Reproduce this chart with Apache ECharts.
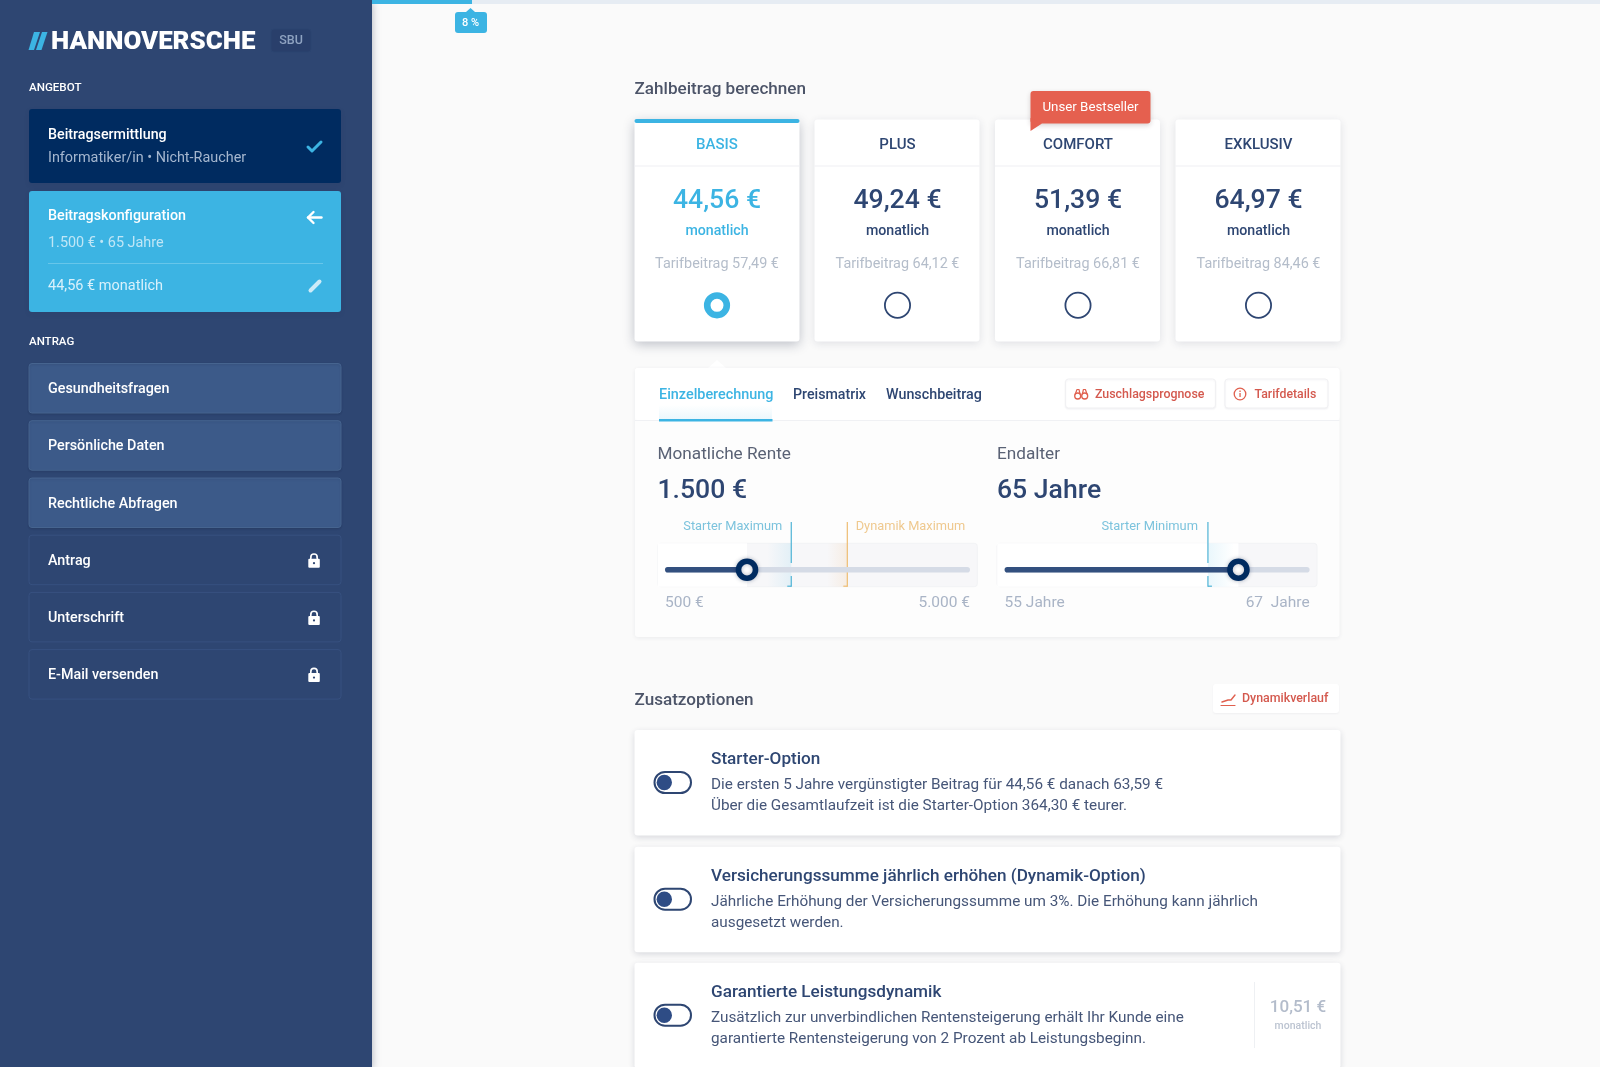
<!DOCTYPE html>
<html lang="de">
<head>
<meta charset="utf-8">
<title>Hannoversche SBU</title>
<style>html,body{margin:0;padding:0;background:#fafafa}#c{position:absolute;left:0;top:0;width:1600px;height:1067px}</style>
<script src="https://cdn.jsdelivr.net/npm/echarts@6/dist/echarts.min.js"></script>
</head>
<body>
<div id="c"></div>
<script>
// ---------- content ----------
var brandName = 'HANNOVERSCHE';
var brandTag = 'SBU';
var progressPercent = 8;
var sectionOffer = 'ANGEBOT';
var sectionApplication = 'ANTRAG';
var stepOne = ['Beitragsermittlung', 'Informatiker/in • Nicht-Raucher'];
var stepTwo = ['Beitragskonfiguration', '1.500 € • 65 Jahre', '44,56 € monatlich'];
var openSteps = ['Gesundheitsfragen', 'Persönliche Daten', 'Rechtliche Abfragen'];
var lockedSteps = ['Antrag', 'Unterschrift', 'E-Mail versenden'];

var plans = ['BASIS', 'PLUS', 'COMFORT', 'EXKLUSIV'];
var monthlyPrices = ['44,56 €', '49,24 €', '51,39 €', '64,97 €'];
var tariffPrices = ['57,49 €', '64,12 €', '66,81 €', '84,46 €'];
var tabs = ['Einzelberechnung', 'Preismatrix', 'Wunschbeitrag'];

// slider scales and values
var rentRange = [500, 5000];
var rentTickLabels = ['500 €', '5.000 €'];
var rentHandle = 1710;
var rentStarterMax = 2363;
var rentDynamikMax = 3190;
var ageRange = [55, 67];
var ageTickLabels = ['55 Jahre', '67  Jahre'];
var ageHandle = 64.2;
var ageStarterMin = 63;

var optionTitles = ['Starter-Option', 'Versicherungssumme jährlich erhöhen (Dynamik-Option)', 'Garantierte Leistungsdynamik'];
var optionLinesA = ['Die ersten 5 Jahre vergünstigter Beitrag für 44,56 € danach 63,59 €', 'Jährliche Erhöhung der Versicherungssumme um 3%. Die Erhöhung kann jährlich', 'Zusätzlich zur unverbindlichen Rentensteigerung erhält Ihr Kunde eine'];
var optionLinesB = ['Über die Gesamtlaufzeit ist die Starter-Option 364,30 € teurer.', 'ausgesetzt werden.', 'garantierte Rentensteigerung von 2 Prozent ab Leistungsbeginn.'];

// ---------- layout ----------
var FONT = 'Roboto, sans-serif';
var NAVY = '#2e4672', DEEP = '#002b60', SKY = '#3cb4e3', CORAL = '#e0604f', LINK = '#d4594e';
var TEXT_SHIFT = 1.2;
var planX = [717, 897.5, 1078, 1258.5];
var planLeft = [634.5, 814.5, 995, 1175.5];
var openY = [363.5, 420.7, 478];
var lockedY = [535.2, 592.4, 649.6];
var optionY = [730, 846.7, 962.7];

var els = [];
function rect(x, y, w, h, fill, o) {
  o = o || {};
  var style = { fill: fill };
  if (o.stroke) { style.stroke = o.stroke; style.lineWidth = o.lw || 1; }
  if (o.blur) { style.shadowBlur = o.blur; style.shadowColor = o.sc || 'rgba(40,50,80,0.12)'; style.shadowOffsetY = o.sy || 2; }
  els.push({ type: 'rect', shape: { x: x, y: y, width: w, height: h, r: o.r === undefined ? 3 : o.r }, style: style, silent: true });
}
function text(x, y, s, size, weight, fill, align) {
  els.push({ type: 'text', silent: true, style: { x: x, y: y + TEXT_SHIFT, text: s, fill: fill, font: weight + ' ' + size + 'px ' + FONT, textAlign: align || 'left', textVerticalAlign: 'middle' } });
}
function line(pts, color, w) {
  els.push({ type: 'polyline', silent: true, shape: { points: pts }, style: { stroke: color, lineWidth: w, fill: null, lineCap: 'round', lineJoin: 'round' } });
}
function poly(pts, fill) {
  els.push({ type: 'polygon', silent: true, shape: { points: pts }, style: { fill: fill } });
}
function circle(x, y, r, fill, stroke, lw) {
  els.push({ type: 'circle', silent: true, shape: { cx: x, cy: y, r: r }, style: { fill: fill, stroke: stroke || null, lineWidth: lw || 0 } });
}
function lock(cy) {
  els.push({ type: 'arc', silent: true, shape: { cx: 314, cy: cy - 3, r: 3.2, startAngle: Math.PI, endAngle: 0 }, style: { stroke: '#fff', lineWidth: 1.6, fill: null } });
  line([[310.8, cy - 3], [310.8, cy - 1]], '#fff', 1.6);
  line([[317.2, cy - 3], [317.2, cy - 1]], '#fff', 1.6);
  rect(308.3, cy - 1.5, 11.5, 9, '#ffffff', { r: 1 });
  circle(314, cy + 3, 1.1, NAVY);
}

// sidebar
rect(0, 0, 372, 1067, NAVY, { r: 0, blur: 8, sc: 'rgba(30,40,70,0.35)', sy: 0 });
poly([[34, 32], [40, 32], [34, 50], [28.5, 50]], SKY);
poly([[42, 32], [47.5, 32], [41.5, 50], [36, 50]], SKY);
text(51, 41.5, brandName, 25.9, 900, '#ffffff');
rect(271, 29, 40, 23, '#293f6b', { stroke: '#2b4470' });
text(291, 39.8, brandTag, 12.5, 500, '#8fa3c1', 'center');
text(29, 86.5, sectionOffer, 11.6, 500, '#ffffff');
rect(29, 109, 312, 74, DEEP, { blur: 5 });
text(48, 134, stepOne[0], 14.25, 500, '#ffffff');
text(48, 157.5, stepOne[1], 14.4, 400, '#a5b7cf');
line([[308, 147], [312, 151], [321, 142]], SKY, 3);
rect(29, 191, 312, 121, SKY, { blur: 5 });
text(48, 215.5, stepTwo[0], 14.3, 500, '#ffffff');
text(48, 242.5, stepTwo[1], 14.4, 400, '#bfe6f6');
rect(48, 263, 275, 1, '#67c6ea', { r: 0 });
text(48, 285.5, stepTwo[2], 14.5, 400, '#d9f1fb');
line([[308, 217.5], [321.5, 217.5]], '#ffffff', 2.4);
line([[313.5, 212], [308, 217.5], [313.5, 223]], '#ffffff', 2.4);
line([[310.5, 290.5], [319.5, 281.5]], '#cdebf8', 4);
text(29, 341, sectionApplication, 11.5, 500, '#ffffff');
openSteps.forEach(function (s, i) {
  rect(29, openY[i], 312, 49.5, '#3c5a89', { stroke: '#46648f', blur: 2, sc: 'rgba(20,30,60,0.14)', sy: 1 });
  text(48, openY[i] + 24.8, s, 14.3, 500, '#ffffff');
});
lockedSteps.forEach(function (s, i) {
  rect(29, lockedY[i], 312, 49.5, '#2e4672', { stroke: '#375180' });
  text(48, lockedY[i] + 24.8, s, 14.3, 500, '#ffffff');
  lock(lockedY[i] + 25);
});

// progress
rect(372, 0, 1228, 4, '#e6ecf3', { r: 0 });
rect(372, 0, 100, 4, SKY, { r: 0 });
poly([[466, 12], [470.5, 8], [475, 12]], SKY);
rect(455, 12, 32, 21, SKY, { r: 3 });
text(470.5, 22, progressPercent + ' %', 11, 500, '#ffffff', 'center');

// plans
text(634.5, 88.8, 'Zahlbeitrag berechnen', 17.1, 500, '#4c5468');
plans.forEach(function (p, i) {
  var active = i === 0, col = active ? SKY : NAVY, x = planLeft[i], cx = planX[i];
  rect(x, 119.5, 165, 222, '#ffffff', { blur: active ? 12 : 9, sc: active ? 'rgba(30,40,70,0.28)' : 'rgba(30,40,70,0.12)', sy: active ? 3 : 2 });
  if (active) rect(x, 119, 165, 4, SKY, { r: 2 });
  rect(x, 165.5, 165, 1, '#eff0f3', { r: 0 });
  text(cx, 144, p, 15, 500, col, 'center');
  text(cx, 200, monthlyPrices[i], 26.6, 500, col, 'center');
  text(cx, 230.5, 'monatlich', 14.2, 500, col, 'center');
  text(cx, 263.5, 'Tarifbeitrag ' + tariffPrices[i], 14.4, 400, '#b4bdca', 'center');
  if (active) { circle(cx, 305.3, 9.8, '#ffffff', SKY, 6.6); }
  else { circle(cx, 305.3, 12.6, '#ffffff', NAVY, 1.8); }
});
rect(1030.5, 91, 120, 32.5, '#e5604f', { blur: 5, sc: 'rgba(60,30,30,0.2)' });
poly([[1030.5, 118], [1030.5, 131], [1042, 123.5]], '#e5604f');
text(1090.5, 106.5, 'Unser Bestseller', 13.3, 400, '#ffffff', 'center');

// calculator panel
poly([[708, 368], [717, 360], [726, 368]], '#ffffff');
rect(635, 368, 704.5, 269, '#fdfdfd', { blur: 4, sc: 'rgba(30,40,70,0.07)', sy: 1 });
rect(635, 368, 704.5, 52, '#ffffff', { r: 3 });
rect(635, 420, 704.5, 1, '#f0f1f4', { r: 0 });
els.push({ type: 'rect', silent: true, shape: { x: 659, y: 405, width: 113, height: 14 }, style: { fill: { type: 'linear', x: 0, y: 0, x2: 0, y2: 1, colorStops: [{ offset: 0, color: 'rgba(60,180,227,0)' }, { offset: 1, color: 'rgba(60,180,227,0.10)' }] } } });
rect(659, 419, 113.5, 2.4, SKY, { r: 0 });
text(659, 394.5, tabs[0], 14.4, 500, SKY);
text(793, 394.5, tabs[1], 14.2, 500, NAVY);
text(886, 394.5, tabs[2], 14.3, 500, NAVY);
rect(1065.5, 379, 150, 29, '#ffffff', { stroke: '#f1f1f3', blur: 2, sc: 'rgba(30,40,70,0.05)', sy: 1 });
rect(1225, 379, 103, 29, '#ffffff', { stroke: '#f1f1f3', blur: 2, sc: 'rgba(30,40,70,0.05)', sy: 1 });
text(1095, 393.4, 'Zuschlagsprognose', 12.4, 500, LINK);
text(1254.5, 393.4, 'Tarifdetails', 12.3, 500, LINK);
circle(1077.7, 396, 3, null, CORAL, 1.3);
circle(1084.7, 396, 3, null, CORAL, 1.3);
line([[1075.3, 394], [1077, 389.5], [1079, 389.5], [1080, 394]], CORAL, 1.2);
line([[1082.4, 394], [1083.4, 389.5], [1085.4, 389.5], [1087, 394]], CORAL, 1.2);
circle(1240, 394, 5.8, null, CORAL, 1.3);
rect(1239.4, 393, 1.3, 4, CORAL, { r: 0 });
rect(1239.4, 390.6, 1.3, 1.3, CORAL, { r: 0 });
text(657.5, 453.8, 'Monatliche Rente', 17.2, 400, '#5a6275');
text(997, 453.8, 'Endalter', 17.2, 400, '#5a6275');
text(657.5, 490, '1.500 €', 26.6, 500, NAVY);
text(997, 490, '65 Jahre', 26.6, 500, NAVY);
rect(657.7, 543.3, 319.6, 43.4, '#f7f7f9', { stroke: '#f2f3f5' });
rect(997, 543.3, 320, 43.4, '#f7f7f9', { stroke: '#f2f3f5' });
text(782.3, 526, 'Starter Maximum', 12.8, 400, '#7cc3dd', 'right');
text(855.7, 526, 'Dynamik Maximum', 12.8, 400, '#efc98f');
text(1198, 526, 'Starter Minimum', 12.9, 400, '#7cc3dd', 'right');

// options
text(634.5, 700, 'Zusatzoptionen', 17.1, 500, '#4c5468');
rect(1213, 684, 126, 29, '#ffffff', { blur: 2, sc: 'rgba(30,40,70,0.05)', sy: 1 });
text(1242, 697.6, 'Dynamikverlauf', 12.4, 500, LINK);
line([[1221, 705.5], [1235, 705.5]], CORAL, 1.2);
line([[1222, 702], [1228, 700], [1231, 700], [1235, 695]], CORAL, 1.4);
optionTitles.forEach(function (t, i) {
  var y = optionY[i];
  rect(634.5, y, 706, 105.5, '#ffffff', { blur: 6, sc: 'rgba(30,40,70,0.16)', sy: 2 });
  rect(654.5, y + 42, 36.5, 21, '#ffffff', { stroke: NAVY, lw: 2, r: 10.5 });
  circle(664.3, y + 52.5, 7.7, '#2e4c85');
  text(711, y + 28.6, t, 17.15, 500, NAVY);
  text(711, y + 53.8, optionLinesA[i], 15.3, 400, '#465678');
  text(711, y + 74.8, optionLinesB[i], 15.3, 400, '#465678');
});
rect(1254, 982, 1, 66, '#eef0f3', { r: 0 });
text(1298, 1006.5, '10,51 €', 17, 500, '#b3bccb', 'center');
text(1298, 1025, 'monatlich', 10.5, 500, '#bcc4d1', 'center');

// ---------- slider marks (x from the axes) ----------
var SLIDER_TOP = 543.3, SLIDER_BOTTOM = 586.7, TRACK_H = 5.6;
function gradient(a, b) {
  return { type: 'linear', x: 0, y: 0, x2: 1, y2: 0, colorStops: [{ offset: 0, color: a }, { offset: 1, color: b }] };
}
function marksRenderer(handle, low, marks) {
  return function (params, api) {
    var children = [];
    var x0 = api.coord([low, 0])[0] - 7.3;
    var hx = api.coord([handle, 0])[0];
    var h = SLIDER_BOTTOM - SLIDER_TOP;
    children.push({ type: 'rect', shape: { x: x0, y: SLIDER_TOP, width: hx - x0, height: h }, style: { fill: '#ffffff' } });
    marks.forEach(function (m) {
      var mx = api.coord([m.value, 0])[0];
      var w = m.bandWidth;
      children.push({ type: 'rect', shape: { x: m.side < 0 ? mx - w : mx, y: SLIDER_TOP, width: w, height: h }, style: { fill: m.side < 0 ? gradient(m.clear, m.tint) : gradient(m.tint, m.clear) } });
      var segs = m.gap ? [[522, 563], [576, SLIDER_BOTTOM]] : [[522, SLIDER_BOTTOM]];
      segs.forEach(function (s) {
        children.push({ type: 'line', shape: { x1: mx, y1: s[0], x2: mx, y2: s[1] }, style: { stroke: m.color, lineWidth: 1.2 } });
      });
      children.push({ type: 'line', shape: { x1: mx, y1: SLIDER_BOTTOM - 0.5, x2: mx + m.side * 4, y2: SLIDER_BOTTOM - 0.5 }, style: { stroke: m.color, lineWidth: 1.2 } });
    });
    return { type: 'group', children: children };
  };
}
function trackSeries(axis, from, to, color, z) {
  return {
    type: 'custom', xAxisIndex: axis, yAxisIndex: axis, silent: true, z: z, clip: false, data: [[from, 0, to]], encode: { x: [0, 2], y: 1 },
    renderItem: function (params, api) {
      var a = api.coord([api.value(0), 0]), b = api.coord([api.value(2), 0]);
      return { type: 'rect', shape: { x: a[0], y: a[1] - TRACK_H / 2, width: b[0] - a[0], height: TRACK_H, r: TRACK_H / 2 }, style: { fill: color } };
    }
  };
}
function handleSeries(axis, v) {
  return { type: 'scatter', xAxisIndex: axis, yAxisIndex: axis, silent: true, z: 8, symbol: 'circle', symbolSize: 17, data: [[v, 0]], itemStyle: { color: '#ffffff', opacity: 1, borderColor: DEEP, borderWidth: 5.6, shadowBlur: 4, shadowColor: 'rgba(0,20,60,0.3)' } };
}
function xAxis(grid, range, labels) {
  return {
    type: 'value', gridIndex: grid, min: range[0], max: range[1], splitLine: { show: false }, axisLine: { show: false }, axisTick: { show: false },
    axisLabel: {
      customValues: range, margin: 3.5, color: '#a9b4c6', fontFamily: FONT, fontSize: 15.5, alignMinLabel: 'left', alignMaxLabel: 'right',
      formatter: function (v) { return v === range[0] ? labels[0] : labels[1]; }
    }
  };
}
function yAxis(grid) {
  return { type: 'value', gridIndex: grid, min: -1, max: 1, show: false };
}

var option = {
  animation: false,
  backgroundColor: '#fafafa',
  textStyle: { fontFamily: FONT },
  graphic: { elements: els },
  grid: [
    { left: 665, width: 305, top: 547.7, height: 44 },
    { left: 1004.6, width: 305, top: 547.7, height: 44 }
  ],
  xAxis: [xAxis(0, rentRange, rentTickLabels), xAxis(1, ageRange, ageTickLabels)],
  yAxis: [yAxis(0), yAxis(1)],
  series: [
    { type: 'custom', xAxisIndex: 0, yAxisIndex: 0, silent: true, z: 3, clip: false, data: [[rentHandle, 0]], encode: { x: 0, y: 1 },
      renderItem: marksRenderer(rentHandle, rentRange[0], [
        { value: rentStarterMax, side: -1, bandWidth: 24, gap: true, color: '#4fb3d6', tint: 'rgba(60,180,227,0.11)', clear: 'rgba(60,180,227,0)' },
        { value: rentDynamikMax, side: -1, bandWidth: 20, gap: false, color: '#eebd73', tint: 'rgba(240,170,90,0.13)', clear: 'rgba(240,170,90,0)' }
      ]) },
    trackSeries(0, rentRange[0], rentRange[1], '#d5dbe6', 5),
    trackSeries(0, rentRange[0], rentHandle, '#33507f', 6),
    handleSeries(0, rentHandle),
    { type: 'custom', xAxisIndex: 1, yAxisIndex: 1, silent: true, z: 3, clip: false, data: [[ageHandle, 0]], encode: { x: 0, y: 1 },
      renderItem: marksRenderer(ageHandle, ageRange[0], [
        { value: ageStarterMin, side: 1, bandWidth: 26, gap: true, color: '#4fb3d6', tint: 'rgba(60,180,227,0.11)', clear: 'rgba(60,180,227,0)' }
      ]) },
    trackSeries(1, ageRange[0], ageRange[1], '#d5dbe6', 5),
    trackSeries(1, ageRange[0], ageHandle, '#33507f', 6),
    handleSeries(1, ageHandle)
  ]
};
var chart = echarts.init(document.getElementById('c'), null, { renderer: 'canvas', width: 1600, height: 1067 });
chart.setOption(option);
</script>
</body>
</html>
